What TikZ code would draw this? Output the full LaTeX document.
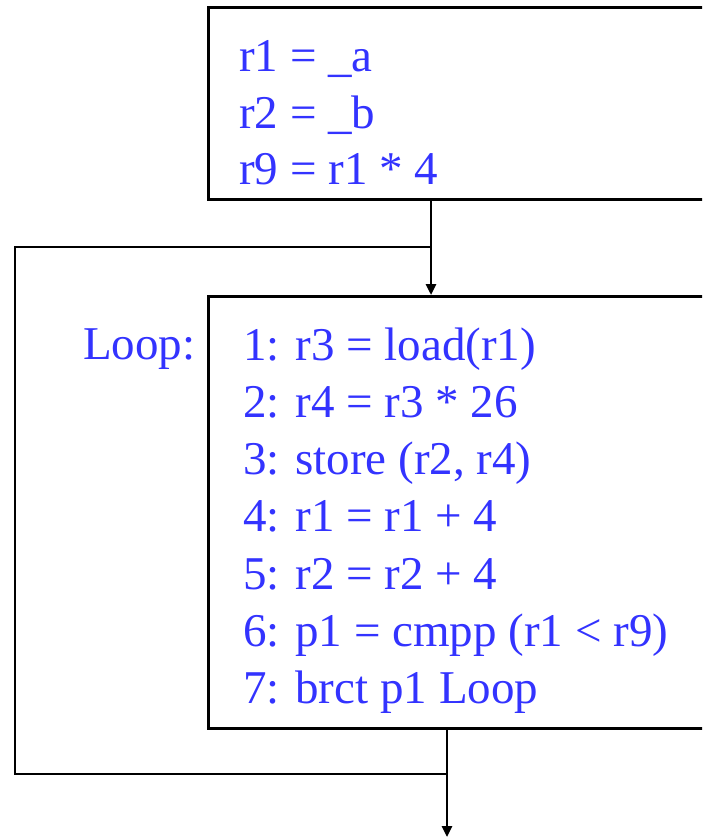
\documentclass[tikz,border=0pt]{standalone}
\usepackage{fontspec}
\setmainfont{Liberation Serif}
\usetikzlibrary{arrows.meta}
\definecolor{codeblue}{RGB}{51,51,255}
\begin{document}
\begin{tikzpicture}[x=1pt,y=-1pt,
  blk/.style={draw=black,line width=2.6pt,rectangle,inner sep=0pt,anchor=north west},
  code/.style={text=codeblue,font=\fontsize{47}{57}\selectfont,align=left,anchor=base west,inner sep=0pt},
  wire/.style={draw=black,line width=2.6pt},
  arr/.style={wire,-{Triangle[length=11pt,width=10pt]}}]
\useasboundingbox (0,0) rectangle (702,837);
\clip (0,0) rectangle (702,837);
\fill[white] (0,0) rectangle (702,837);
% boxes
\node[blk,minimum width=520pt,minimum height=192pt] (top) at (207,6) {};
\node[blk,minimum width=520pt,minimum height=432pt] (loop) at (207,295) {};
% texts
\node[code] (t1) at (239,72) {r1 = \_a};
\node[code] (t2) at (239,128.5) {r2 = \_b};
\node[code] (t3) at (239,185) {r9 = r1 * 4};
\node[code] (lbl) at (83,359) {Loop:};
\node[code] (l1) at (243,360) {1: r3 = load(r1)};
\node[code] (l2) at (243,417) {2: r4 = r3 * 26};
\node[code] (l3) at (243,474) {3: store (r2, r4)};
\node[code] (l4) at (243,531) {4: r1 = r1 + 4};
\node[code] (l5) at (243,589) {5: r2 = r2 + 4};
\node[code] (l6) at (243,646) {6: p1 = cmpp (r1 {<} r9)};
\node[code] (l7) at (243,703) {7: brct p1 Loop};
% junctions
\coordinate (jin) at (431,247);
\coordinate (jout) at (447,774);
\coordinate (cl) at (15,774);
\coordinate (cu) at (15,247);
\coordinate (exit) at (447,837);
% connectors
\draw[arr] (jin |- top.south) -- (jin |- loop.north);
\draw[wire] (jout |- loop.south) -- (jout);
\draw[wire,line join=miter] (jout) -- (cl) -- (cu) -- (jin);
\draw[arr] (jout) -- (exit);
\end{tikzpicture}
\end{document}
